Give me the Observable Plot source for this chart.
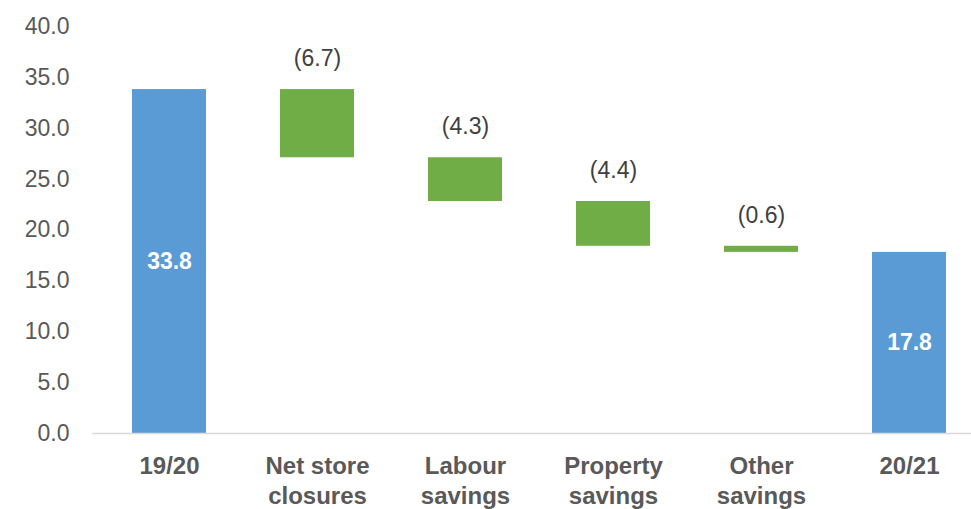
<!DOCTYPE html>
<html>
<head>
<meta charset="utf-8">
<script src="https://cdn.jsdelivr.net/npm/d3@7"></script>
<script src="https://cdn.jsdelivr.net/npm/@observablehq/plot@0.6"></script>
<style>
  html, body { margin: 0; padding: 0; background: #fff; }
  #chart { width: 971px; height: 509px; }
</style>
</head>
<body>
<div id="chart"></div>
<script>
const categories = ["19/20", "Net store\nclosures", "Labour\nsavings", "Property\nsavings", "Other\nsavings", "20/21"];
const values = [33.8, -6.7, -4.3, -4.4, -0.6, 17.8];
const kinds = ["total", "delta", "delta", "delta", "delta", "total"];
const valueLabels = ["33.8", "(6.7)", "(4.3)", "(4.4)", "(0.6)", "17.8"];
const yTicks = [0, 5, 10, 15, 20, 25, 30, 35, 40];

let run = 0;
const rows = categories.map((c, i) => {
  let y1, y2;
  if (kinds[i] === "total") { y1 = 0; y2 = values[i]; run = values[i]; }
  else { y1 = run; y2 = run + values[i]; run = y2; }
  return { cat: c, y1, y2, kind: kinds[i], label: valueLabels[i], mid: (y1 + y2) / 2, top: Math.max(y1, y2) };
});

const chart = Plot.plot({
  width: 971,
  height: 509,
  marginLeft: 92,
  marginRight: -14,
  marginTop: 26,
  marginBottom: 76,
  style: { fontFamily: "Liberation Sans, Arial, sans-serif", background: "#fff" },
  x: { domain: categories, paddingInner: 0.5, paddingOuter: 0.25, label: null },
  y: { domain: [0, 40], label: null },
  marks: [
    Plot.barY(rows, { x: "cat", y1: "y1", y2: "y2", fill: d => d.kind === "total" ? "#5B9BD5" : "#70AD47" }),
    Plot.ruleY([0], { stroke: "#D9D9D9", strokeWidth: 1.5 }),
    Plot.axisY({ ticks: yTicks, tickFormat: d => d.toFixed(1), tickSize: 0, tickPadding: 23, fontSize: 23, fill: "#595959", label: null }),
    Plot.axisX({ tickSize: 0, tickPadding: 19, fontSize: 24, fontWeight: "bold", fill: "#595959", lineHeight: 1.25, label: null }),
    Plot.text(rows.filter(d => d.kind === "total"), { x: "cat", y: "mid", text: "label", fill: "white", fontWeight: "bold", fontSize: 23 }),
    Plot.text(rows.filter(d => d.kind === "delta"), { x: "cat", y: "top", text: "label", fill: "#404040", fontSize: 23, dy: -31 })
  ]
});
document.getElementById("chart").appendChild(chart);
</script>
</body>
</html>
